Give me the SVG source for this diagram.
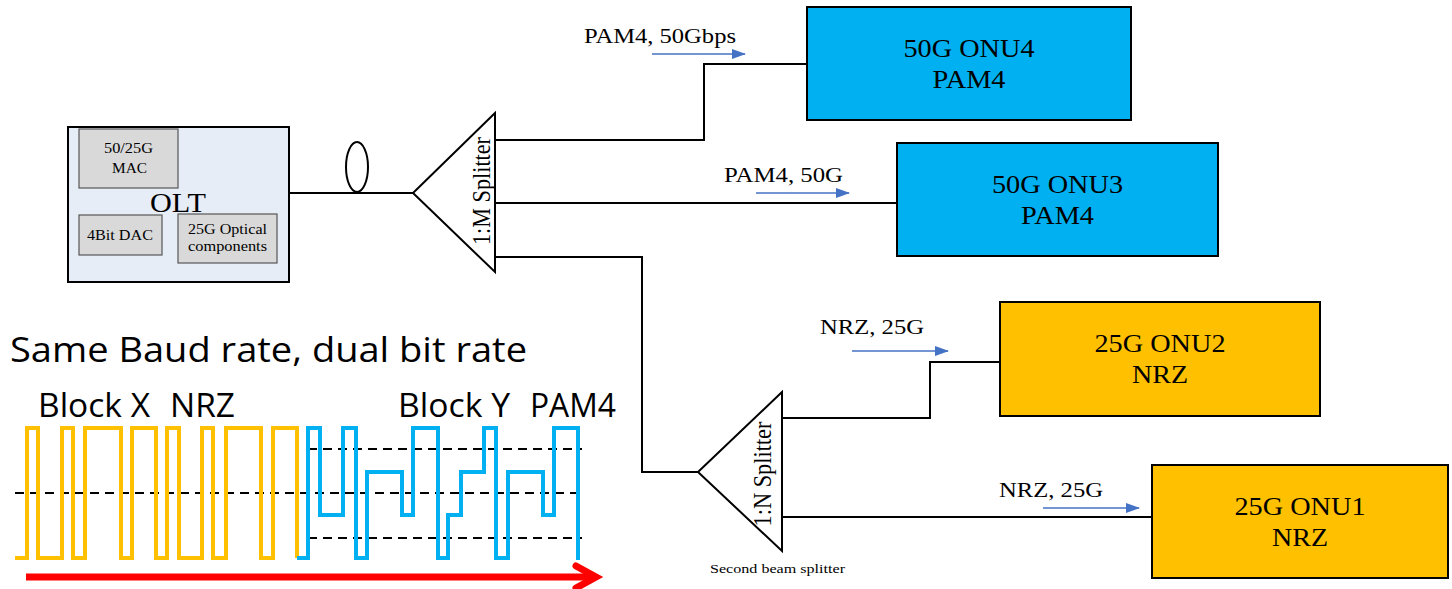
<svg xmlns="http://www.w3.org/2000/svg" width="1452" height="589" viewBox="0 0 1452 589">
<defs>
<style>
.ln{fill:none;stroke:#000;stroke-width:2}
.srf{font-family:"Liberation Serif","Times New Roman",serif;fill:#000}
.sans{font-family:"Open Sans","Noto Sans",sans-serif;fill:#000}
.inner{fill:#d9d9d9;stroke:#555;stroke-width:1.2}
.onuB{fill:#00b0f0;stroke:#000;stroke-width:2}
.onuY{fill:#ffc000;stroke:#000;stroke-width:2}
.barr{stroke:#4472c4;stroke-width:1.3;fill:none}
.dash{stroke:#000;stroke-width:2;stroke-dasharray:9,6;fill:none}
</style>
<marker id="ah" markerWidth="14" markerHeight="10" refX="13" refY="5" orient="auto" markerUnits="userSpaceOnUse">
<path d="M0,0 L14,5 L0,10 Z" fill="#4472c4"/>
</marker>
</defs>

<g id="connectors">
<line class="ln" x1="289" y1="193" x2="413" y2="193"/>
<ellipse cx="357" cy="167" rx="11" ry="25" fill="#fff" stroke="#000" stroke-width="2"/>
<polyline class="ln" points="495,140 704,140 704,64 807,64"/>
<line class="ln" x1="495" y1="203" x2="897" y2="203"/>
<polyline class="ln" points="495,257 642,257 642,472 698,472"/>
<polyline class="ln" points="782,418 930,418 930,362 1000,362"/>
<line class="ln" x1="782" y1="517" x2="1152" y2="517"/>
<line class="barr" x1="652" y1="54" x2="745" y2="54" marker-end="url(#ah)"/>
<line class="barr" x1="756" y1="193" x2="849" y2="193" marker-end="url(#ah)"/>
<line class="barr" x1="852" y1="351" x2="948" y2="351" marker-end="url(#ah)"/>
<line class="barr" x1="1043" y1="508" x2="1139" y2="508" marker-end="url(#ah)"/>
</g>

<g id="olt">
<rect x="68" y="127" width="221" height="155" fill="#e7edf7" stroke="#000" stroke-width="2"/>
<rect class="inner" x="79" y="129" width="99" height="59"/>
<text class="srf" x="128.5" y="153" font-size="14" text-anchor="middle" textLength="49" lengthAdjust="spacingAndGlyphs">50/25G</text>
<text class="srf" x="129.5" y="173" font-size="14" text-anchor="middle" textLength="35" lengthAdjust="spacingAndGlyphs">MAC</text>
<text class="srf" x="178" y="212" font-size="27" text-anchor="middle" textLength="56" lengthAdjust="spacingAndGlyphs">OLT</text>
<rect class="inner" x="79" y="215" width="83" height="40"/>
<text class="srf" x="120" y="240" font-size="14" text-anchor="middle" textLength="66" lengthAdjust="spacingAndGlyphs">4Bit DAC</text>
<rect class="inner" x="178" y="214" width="99" height="49"/>
<text class="srf" x="227.5" y="234" font-size="14" text-anchor="middle" textLength="79" lengthAdjust="spacingAndGlyphs">25G Optical</text>
<text class="srf" x="227.5" y="251" font-size="14" text-anchor="middle" textLength="79" lengthAdjust="spacingAndGlyphs">components</text>
</g>

<g id="splitter1">
<polygon points="495,113 413,193 495,272" fill="#fff" stroke="#000" stroke-width="2"/>
<text class="srf" font-size="25" text-anchor="middle" transform="translate(490,191) rotate(-90)" textLength="108" lengthAdjust="spacingAndGlyphs">1:M Splitter</text>
</g>

<g id="splitter2">
<polygon points="782,392 698,472 782,551" fill="#fff" stroke="#000" stroke-width="2"/>
<text class="srf" font-size="25" text-anchor="middle" transform="translate(771,474) rotate(-90)" textLength="105" lengthAdjust="spacingAndGlyphs">1:N Splitter</text>
<text class="srf" x="777.5" y="573" font-size="13" text-anchor="middle" textLength="135" lengthAdjust="spacingAndGlyphs">Second beam splitter</text>
</g>

<g id="onu4">
<rect class="onuB" x="807" y="7" width="324" height="113"/>
<text class="srf" x="969" y="57" font-size="26" text-anchor="middle" textLength="131" lengthAdjust="spacingAndGlyphs">50G ONU4</text>
<text class="srf" x="969" y="88" font-size="26" text-anchor="middle" textLength="73" lengthAdjust="spacingAndGlyphs">PAM4</text>
</g>
<g id="onu3">
<rect class="onuB" x="897" y="143" width="321" height="113"/>
<text class="srf" x="1057.5" y="193" font-size="26" text-anchor="middle" textLength="131" lengthAdjust="spacingAndGlyphs">50G ONU3</text>
<text class="srf" x="1057.5" y="224" font-size="26" text-anchor="middle" textLength="73" lengthAdjust="spacingAndGlyphs">PAM4</text>
</g>
<g id="onu2">
<rect class="onuY" x="1000" y="302" width="320" height="114"/>
<text class="srf" x="1160" y="352" font-size="26" text-anchor="middle" textLength="131" lengthAdjust="spacingAndGlyphs">25G ONU2</text>
<text class="srf" x="1160" y="383" font-size="26" text-anchor="middle" textLength="56" lengthAdjust="spacingAndGlyphs">NRZ</text>
</g>
<g id="onu1">
<rect class="onuY" x="1152" y="465" width="296" height="113"/>
<text class="srf" x="1300" y="515" font-size="26" text-anchor="middle" textLength="131" lengthAdjust="spacingAndGlyphs">25G ONU1</text>
<text class="srf" x="1300" y="546" font-size="26" text-anchor="middle" textLength="56" lengthAdjust="spacingAndGlyphs">NRZ</text>
</g>

<g id="labels">
<text class="srf" x="584" y="43" font-size="21" textLength="152" lengthAdjust="spacingAndGlyphs">PAM4, 50Gbps</text>
<text class="srf" x="724" y="182" font-size="21" textLength="119" lengthAdjust="spacingAndGlyphs">PAM4, 50G</text>
<text class="srf" x="820" y="334" font-size="21" textLength="104" lengthAdjust="spacingAndGlyphs">NRZ, 25G</text>
<text class="srf" x="999" y="497" font-size="21" textLength="104" lengthAdjust="spacingAndGlyphs">NRZ, 25G</text>
</g>

<g id="waveform">
<text class="sans" x="10" y="362" font-size="35" textLength="517" lengthAdjust="spacingAndGlyphs">Same Baud rate, dual bit rate</text>
<text class="sans" x="38" y="417" font-size="32" textLength="112" lengthAdjust="spacingAndGlyphs">Block X</text>
<text class="sans" x="170" y="417" font-size="32" textLength="65" lengthAdjust="spacingAndGlyphs">NRZ</text>
<text class="sans" x="398" y="417" font-size="32" textLength="112" lengthAdjust="spacingAndGlyphs">Block Y</text>
<text class="sans" x="530" y="417" font-size="32" textLength="86" lengthAdjust="spacingAndGlyphs">PAM4</text>
<line class="dash" x1="15" y1="493" x2="582" y2="493"/>
<line class="dash" x1="308" y1="449" x2="582" y2="449"/>
<line class="dash" x1="308" y1="538" x2="582" y2="538"/>
<path d="M15,558 H27 V428 H38 V558 H62 V428 H73 V558 H85 V428 H121 V558 H132 V428 H156 V558 H167 V428 H179 V558 H202 V428 H213 V558 H226 V428 H261 V558 H273 V428 H297 V558" fill="none" stroke="#ffc000" stroke-width="4"/>
<path d="M297,558 H308 V428 H320 V515 H343 V428 H356 V558 H367 V472 H402 V515 H413 V428 H438 V558 H448 V515 H461 V472 H484 V428 H496 V558 H508 V472 H543 V515 H554 V428 H578 V560" fill="none" stroke="#00b0f0" stroke-width="4"/>
<line x1="26" y1="577" x2="592" y2="577" stroke="#ff0000" stroke-width="7"/>
<polyline points="576,566 596,577 576,588" fill="none" stroke="#ff0000" stroke-width="7" stroke-linecap="round"/>
</g>
</svg>
